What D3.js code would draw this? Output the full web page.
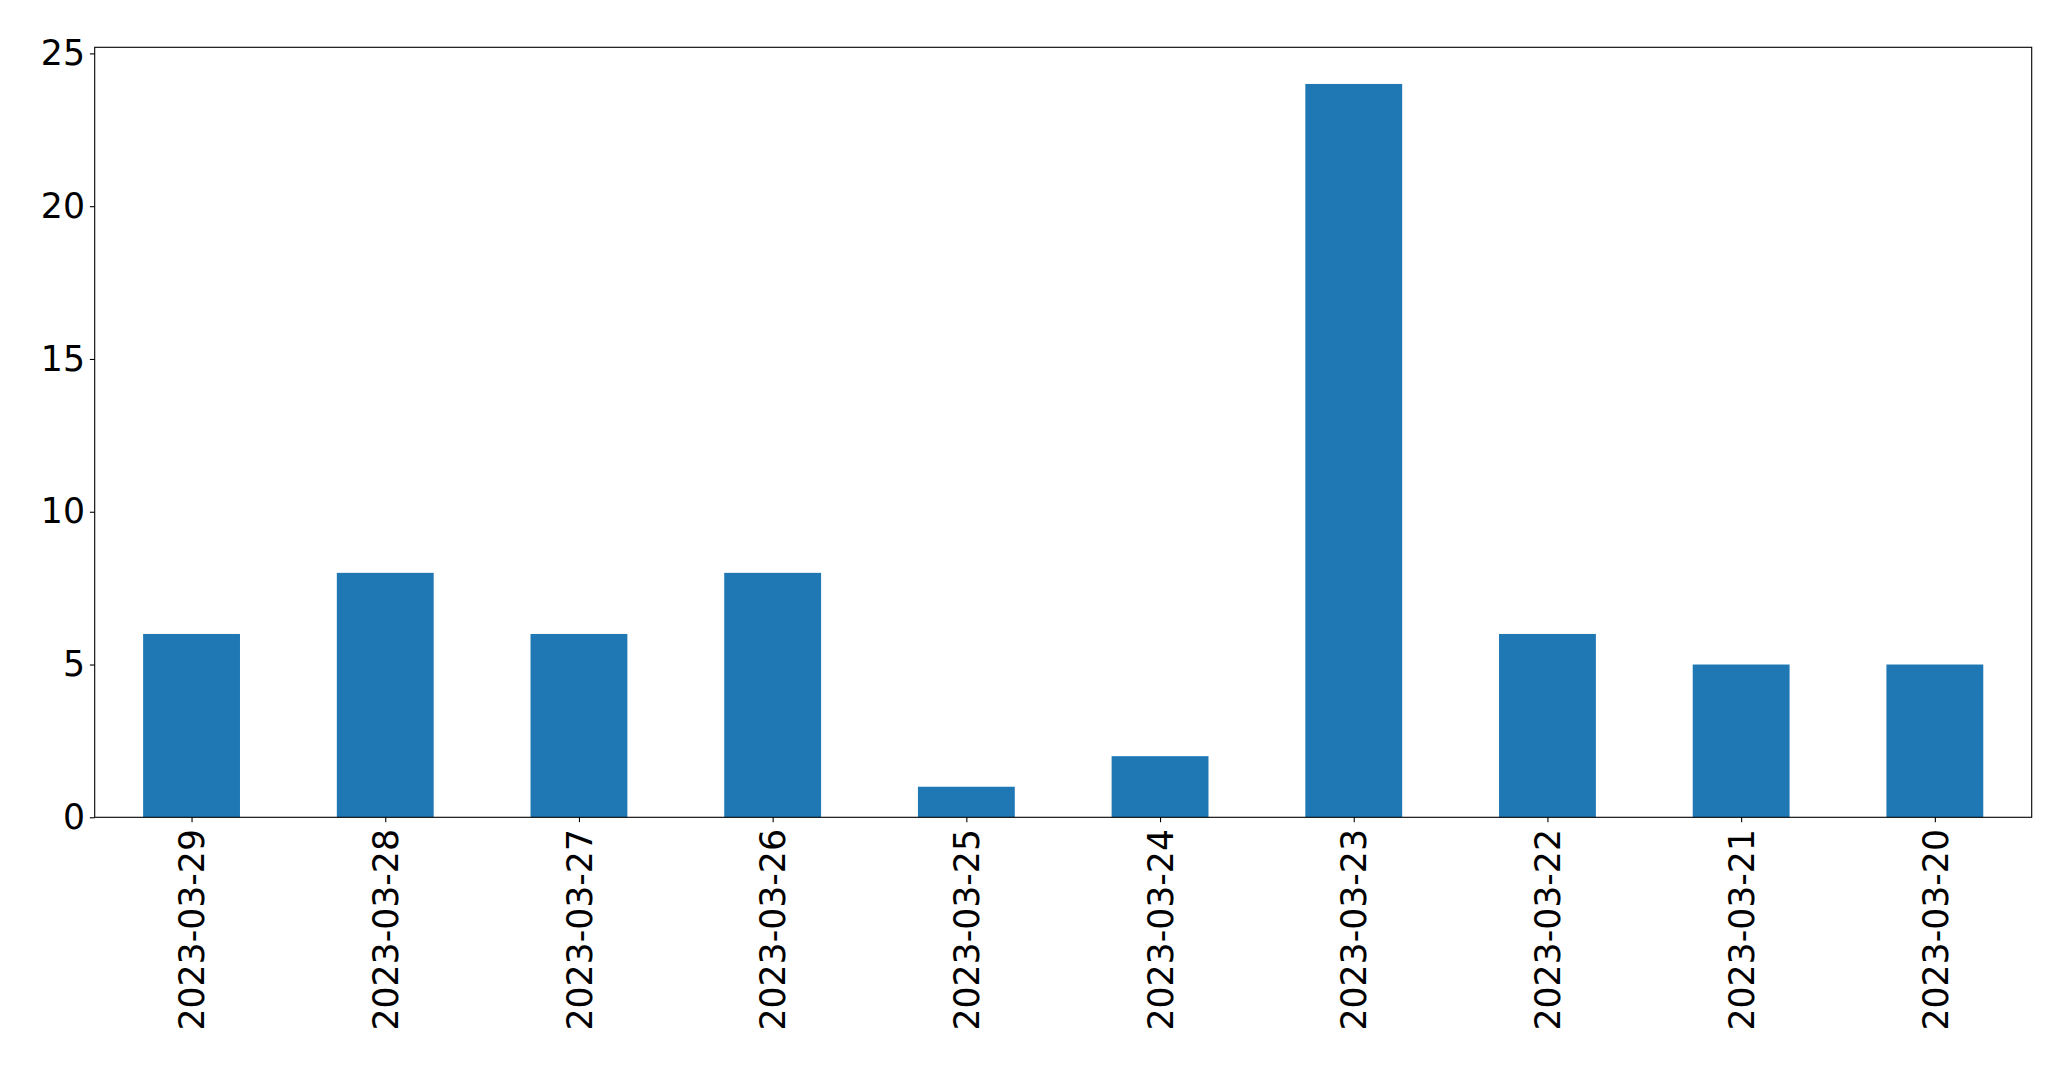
<!DOCTYPE html>
<html>
<head>
<meta charset="utf-8">
<script src="https://cdn.jsdelivr.net/npm/d3@7"></script>
<style>
  html, body { margin: 0; padding: 0; background: #fff; }
  svg { display: block; }
  text { font-family: "DejaVu Sans", sans-serif; }
</style>
</head>
<body>
<svg id="chart" width="2071" height="1069"></svg>
<script>
const categories = ["2023-03-29","2023-03-28","2023-03-27","2023-03-26","2023-03-25","2023-03-24","2023-03-23","2023-03-22","2023-03-21","2023-03-20"];
const values = [6, 8, 6, 8, 1, 2, 24, 6, 5, 5];
const yTicks = [0, 5, 10, 15, 20, 25];

const W = 2071, H = 1069;
const m = { left: 94.7, right: 2031.7, top: 47.3, bottom: 817.3 };
const fontSize = 34.7;
const tickLen = 4.86, pad = 4.86;

const svg = d3.select("#chart");

const x = d3.scaleLinear().domain([-0.5, categories.length - 0.5]).range([m.left, m.right]);
const yMax = d3.max(values) * 1.05;
const y = d3.scaleLinear().domain([0, yMax]).range([m.bottom, m.top]);

const barW = 0.5;
svg.append("g").selectAll("rect").data(values).join("rect")
  .attr("x", (d, i) => x(i - barW / 2))
  .attr("width", (d, i) => x(i + barW / 2) - x(i - barW / 2))
  .attr("y", d => y(d))
  .attr("height", d => y(0) - y(d))
  .attr("fill", "#1f77b4");

// Y axis
const yAxis = d3.axisLeft(y).tickValues(yTicks).tickSize(tickLen).tickPadding(pad).tickFormat(d3.format("d"));
const gy = svg.append("g").attr("transform", `translate(${m.left},0)`).call(yAxis);
gy.select(".domain").remove();
gy.selectAll(".tick line").attr("stroke", "#000").attr("stroke-width", 1.1);
gy.selectAll(".tick text").attr("font-size", fontSize).attr("fill", "#000").attr("font-family", "DejaVu Sans, sans-serif");

// X axis
const xAxis = d3.axisBottom(x).tickValues(d3.range(categories.length)).tickSize(tickLen).tickFormat(i => categories[i]);
const gx = svg.append("g").attr("transform", `translate(0,${m.bottom})`).call(xAxis);
gx.select(".domain").remove();
gx.selectAll(".tick line").attr("stroke", "#000").attr("stroke-width", 1.1);
gx.selectAll(".tick text")
  .attr("font-size", fontSize).attr("fill", "#000").attr("font-family", "DejaVu Sans, sans-serif")
  .attr("transform", "rotate(-90)")
  .attr("x", -(tickLen + pad + 2))
  .attr("y", 0)
  .attr("dy", "0.35em")
  .attr("text-anchor", "end");

// Frame
svg.append("rect")
  .attr("x", m.left).attr("y", m.top)
  .attr("width", m.right - m.left).attr("height", m.bottom - m.top)
  .attr("fill", "none").attr("stroke", "#000").attr("stroke-width", 1.1);
</script>
</body>
</html>
